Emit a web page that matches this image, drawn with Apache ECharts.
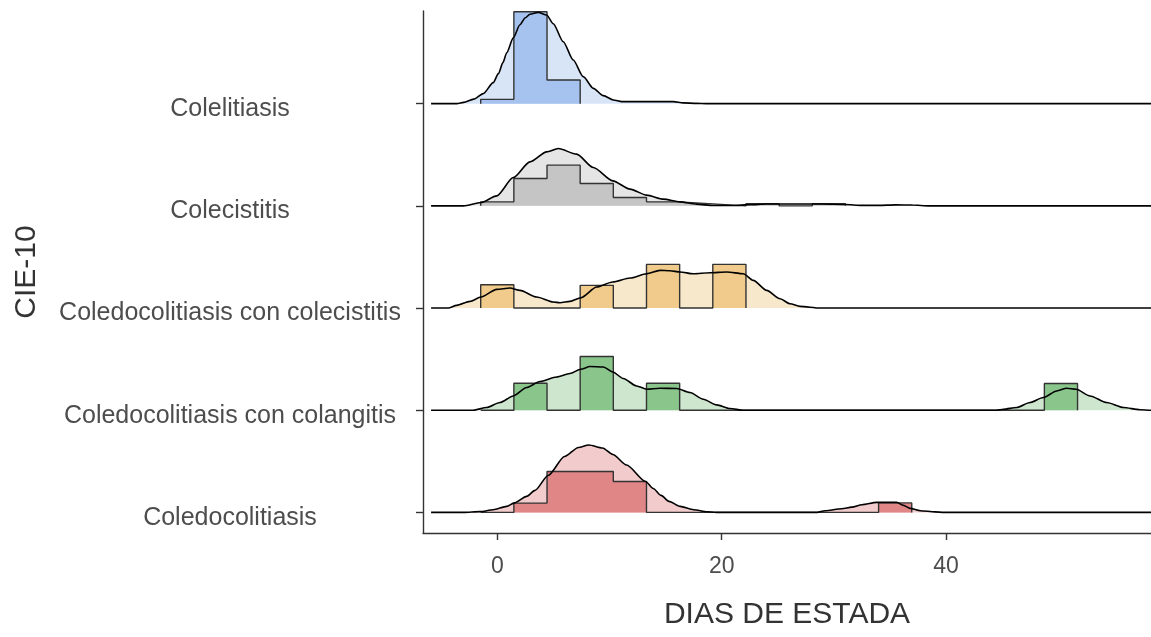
<!DOCTYPE html>
<html>
<head>
<meta charset="utf-8">
<script src="https://cdn.jsdelivr.net/npm/echarts@6/dist/echarts.min.js"></script>
<style>
  html, body { margin: 0; padding: 0; background: #ffffff; }
  #chart { width: 1151px; height: 637px; }
</style>
</head>
<body>
<div id="chart"></div>
<script>
// ---- categories (bottom to top) ----
const categories = [
  'Coledocolitiasis',
  'Coledocolitiasis con colangitis',
  'Coledocolitiasis con colecistitis',
  'Colecistitis',
  'Colelitiasis'
];

// x tick labels
const xTicks = [0, 20, 40];

// histogram: shared bins centred on k * binWidth
const binWidth = 2.955;
const histColedocolitiasis = [0, 9.3, 41, 41, 31, 0, 0, 0, 0, 0, 0, 0, 9.5];
const histColangitis = [0, 27, 0, 53.7, 0, 27, 0, 0, 0, 0, 0, 0, 0, 0, 0, 0, 0, 26.7];
const histConColecistitis = [23.3, 0, 0, 22.7, 0, 43.7, 0, 43.7];
const histColecistitis = [4, 27.3, 40.7, 22.3, 8.3, 4, 2, 0, 2.1, 0, 2.1];
const histColelitiasis = [4.3, 92, 23.7];

// density curves (x = days, h = scaled density)
const densColedocolitiasisX = [-5.9, -3, -1.54, -0.36, 0.84, 1.52, 2.62, 3.36, 4.53, 6.0, 7.23, 8.15, 9.38, 10.29, 11.52, 13.22, 13.9, 14.6, 15.3, 16.3, 17.5, 18.7, 19.5, 28.5, 29.2, 30.7, 31.6, 32.5, 33.8, 34.7, 35.6, 36.2, 36.8, 37.7, 39.0, 39.8, 60];
const densColedocolitiasisH = [0, 0, 0.8, 2.7, 6, 9.5, 16, 22, 37, 56, 65, 67.5, 64.5, 58, 47.5, 31, 24, 17, 11, 6, 2.7, 0.7, 0, 0, 1.7, 3.7, 5.3, 7.7, 10, 10, 10, 7, 4, 1.7, 0.5, 0, 0];

const densColangitisX = [-5.9, -2.14, -0.95, 0.24, 1.43, 2.62, 3.81, 5.29, 6.48, 7.43, 8.26, 9.45, 10.29, 11.23, 12.42, 13.31, 14.5, 15.99, 17.17, 18.36, 19.55, 20.74, 21.93, 44.5, 45.1, 46.29, 47.48, 48.66, 49.86, 50.75, 51.58, 52.83, 54.31, 55.8, 57.28, 58.2, 60];
const densColangitisH = [0, 0, 2.7, 7.7, 14.3, 22.7, 28.7, 33.3, 36.7, 41, 43.7, 43.3, 38.3, 31.7, 24.3, 21, 22, 21.7, 17.7, 11, 5.3, 1.7, 0, 0, 1, 2.7, 7.7, 12.7, 19.3, 22, 21, 14.3, 7.7, 2.7, 0.5, 0, 0];

const densConColecistitisX = [-5.9, -4.37, -3.62, -2.43, -1.45, -0.05, 1.13, 2.02, 3.51, 4.99, 5.59, 6.48, 7.46, 8.86, 10.29, 11.83, 13.31, 14.5, 15.39, 16.28, 17.47, 18.96, 20.45, 21.93, 22.82, 24.01, 25.2, 26.09, 26.98, 28.76, 60];
const densConColecistitisH = [0, 0, 2.7, 6.7, 11, 18.7, 20, 17.7, 11, 6, 5.3, 6.7, 10.3, 21, 26, 30, 34.3, 37.7, 37.3, 36, 34.3, 35.3, 36, 34.3, 27.7, 17.7, 9.3, 4.3, 1.7, 0, 0];

const densColecistitisX = [-5.9, -3.0, -1.45, -0.05, 1.43, 2.91, 4.4, 5.44, 7.07, 8.56, 10.29, 11.83, 13.31, 14.8, 16.28, 17.77, 19.25, 21, 22.5, 24, 26.5, 29, 31, 32.5, 34, 35.5, 37, 38.5, 60];
const densColecistitisH = [0, 0, 3.3, 10, 28.3, 44, 54, 57.3, 51.7, 38.3, 25, 16.7, 10.7, 6.7, 4, 1.7, 0.3, 0.3, 1.2, 1.8, 1.8, 1.8, 1.3, 0.5, 0.5, 1, 0.8, 0, 0];

const densColelitiasisX = [-5.9, -3.6, -3.0, -2.1, -1.25, -0.36, 0.1, 0.5, 0.84, 1.43, 2.02, 2.5, 2.91, 3.65, 4.4, 4.99, 5.88, 6.77, 7.66, 8.56, 9.45, 10.34, 11.09, 12.5, 14, 15.69, 16.58, 17.77, 18.6, 60];
const densColelitiasisH = [0, 0, 1.3, 4.5, 10, 21, 30, 41, 51, 66, 79, 86, 89.5, 91.3, 88.7, 80, 62, 43.7, 27, 15.3, 8, 3.7, 2, 2, 2, 2, 0.8, 0.3, 0, 0];

// colours: [histogram fill, density fill]
const histColors = ['#E08686', '#8AC58C', '#F0CB8C', '#C5C5C5', '#A6C3EF'];
const densColors = ['#F2CCCC', '#CEE6CE', '#F7E8CC', '#E5E5E5', '#D8E5F7'];

// ---- assemble ----
const STEP = 102.25; // ridge spacing in density units
const hists = [histColedocolitiasis, histColangitis, histConColecistitis, histColecistitis, histColelitiasis];
const densX = [densColedocolitiasisX, densColangitisX, densConColecistitisX, densColecistitisX, densColelitiasisX];
const densH = [densColedocolitiasisH, densColangitisH, densConColecistitisH, densColecistitisH, densColelitiasisH];

const series = [];
for (let i = categories.length - 1; i >= 0; i--) {
  const base = i * STEP;
  const dens = densX[i].map((x, j) => [x, base + densH[i][j]]);
  const step = [];
  hists[i].forEach((h, k) => {
    const l = k * binWidth - binWidth / 2;
    const r = k * binWidth + binWidth / 2;
    step.push([l, base + h], [r, base + h]);
  });
  step.unshift([-binWidth / 2, base]);
  step.push([(hists[i].length - 0.5) * binWidth, base]);

  series.push({
    type: 'line', data: dens, showSymbol: false, silent: true,
    smooth: 0.25, smoothMonotone: 'x',
    lineStyle: { width: 0 },
    areaStyle: { color: densColors[i], opacity: 1, origin: base },
    z: 2
  });
  series.push({
    type: 'line', data: step, showSymbol: false, silent: true,
    lineStyle: { color: '#333333', width: 1.4 },
    areaStyle: { color: histColors[i], opacity: 1, origin: base },
    z: 3
  });
  series.push({
    type: 'line', data: dens, showSymbol: false, silent: true,
    smooth: 0.25, smoothMonotone: 'x',
    lineStyle: { color: '#000000', width: 1.6 },
    z: 4
  });
}

const chart = echarts.init(document.getElementById('chart'), null, { renderer: 'canvas' });
const font = 'Liberation Sans, Arial, sans-serif';
chart.setOption({
  animation: false,
  backgroundColor: '#ffffff',
  grid: { left: 423, right: 0, top: 11, bottom: 104, containLabel: false },
  xAxis: {
    type: 'value', min: -6.62, max: 58.26,
    name: 'DIAS DE ESTADA', nameLocation: 'middle', nameGap: 67,
    nameTextStyle: { fontSize: 30, color: '#333333', fontFamily: font },
    axisLine: { onZero: false, lineStyle: { color: '#333333', width: 1.4 } },
    axisTick: { customValues: xTicks, length: 7, lineStyle: { color: '#333333', width: 1.4 } },
    axisLabel: { customValues: xTicks, fontSize: 23, color: '#4D4D4D', margin: 22, fontFamily: font },
    splitLine: { show: false }
  },
  yAxis: {
    type: 'value', min: -20.6, max: 501.7,
    name: 'CIE-10', nameLocation: 'middle', nameGap: 381, nameRotate: 90,
    nameTextStyle: { fontSize: 30, color: '#333333', fontFamily: font },
    axisLine: { onZero: false, lineStyle: { color: '#333333', width: 1.4 } },
    axisTick: { customValues: categories.map((c, i) => i * STEP), length: 7, lineStyle: { color: '#333333', width: 1.4 } },
    axisLabel: {
      customValues: categories.map((c, i) => i * STEP),
      formatter: v => categories[Math.round(v / STEP)],
      align: 'center', verticalAlign: 'top', lineHeight: 11,
      margin: 193, fontSize: 25, color: '#4D4D4D', fontFamily: font
    },
    splitLine: { show: false }
  },
  series: series
});
</script>
</body>
</html>
